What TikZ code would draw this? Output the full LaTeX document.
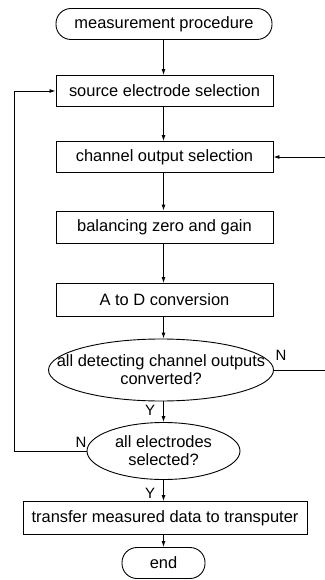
\documentclass[tikz,border=0pt]{standalone}
\usepackage{fontspec}
\setmainfont{Liberation Sans}
\usetikzlibrary{shapes.geometric,arrows.meta}
\begin{document}
\begin{tikzpicture}[x=1bp,y=-1bp,
  every node/.style={font=\fontsize{16.5}{18}\selectfont, inner sep=0pt},
  proc/.style={draw, line width=0.9bp, minimum width=217bp, minimum height=31bp},
  term/.style={draw, line width=0.9bp, rounded corners=15bp, minimum height=31bp},
  dec/.style={draw, ellipse, line width=0.9bp},
  dectext/.style={align=center, font=\fontsize{16.5}{18}\selectfont},
  flow/.style={line width=0.9bp, -{Latex[length=6bp,width=4bp]}},
  lbl/.style={font=\fontsize{15}{17}\selectfont}]
\useasboundingbox (0,0) rectangle (324,580);
\node[term, minimum width=216bp] (start) at (164,24) {measurement procedure};
\node[proc] (src) at (164.5,91) {source electrode selection};
\node[proc] (chan) at (164.5,157) {channel output selection};
\node[proc, minimum height=32bp] (bal) at (164.5,227) {balancing zero and gain};
\node[proc, minimum height=33bp] (atod) at (164.5,300) {A to D conversion};
\node[dec, minimum width=225bp, minimum height=62bp,
  label={[dectext]center:all detecting channel outputs\\converted?}] (q1) at (161,370) {};
\node[dec, minimum width=153bp, minimum height=57bp,
  label={[dectext]center:all electrodes\\selected?}] (q2) at (163.5,451) {};
\node[proc, minimum width=284bp, minimum height=33bp] (xfer) at (165,518) {transfer measured data to transputer};
\node[term, minimum width=83bp] (end) at (163.5,563) {end};
\coordinate (L) at (14,451);
\coordinate (R) at (330,370);
\draw[flow] (start.south -| 163.5,0) -- (src.north -| 163.5,0);
\draw[flow] (src.south -| 163.5,0) -- (chan.north -| 163.5,0);
\draw[flow] (chan.south -| 163.5,0) -- (bal.north -| 163.5,0);
\draw[flow] (bal.south -| 163.5,0) -- (atod.north -| 163.5,0);
\draw[flow] (atod.south -| 163.5,0) -- (q1.north -| 163.5,0);
\draw[flow] (q1.south -| 163.5,0) -- (q2.north);
\draw[flow] (q2.south) -- (xfer.north -| 163.5,0);
\draw[flow] (xfer.south -| 163.5,0) -- (end.north);
\draw[flow] (q2.west) -- (L) |- (src.west);
\draw[flow] (q1.east) -- (R) |- (chan.east);
\node[lbl] (n1) at (281,355) {N};
\node[lbl] (n2) at (81,442) {N};
\node[lbl] (y1) at (150,410) {Y};
\node[lbl] (y2) at (150,493) {Y};
\end{tikzpicture}
\end{document}
